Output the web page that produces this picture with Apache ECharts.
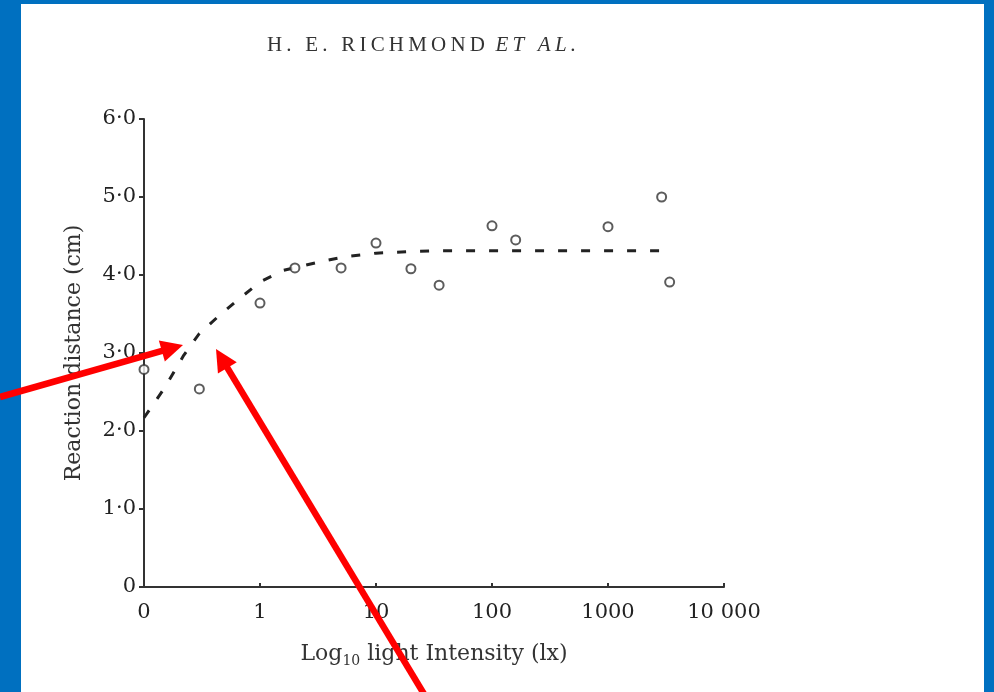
<!DOCTYPE html>
<html>
<head>
<meta charset="utf-8">
<script src="https://cdn.jsdelivr.net/npm/echarts@6/dist/echarts.min.js"></script>
<style>
html,body{margin:0;padding:0;background:#fff;}
#chart{width:994px;height:692px;}
</style>
</head>
<body>
<div id="chart"></div>
<script>
// ---- data ----
const xTickValues = [0.1, 1, 10, 100, 1000, 10000];
const xTickLabels = ['0', '1', '10', '100', '1000', '10 000'];
const yTickLabels = ['0', '1·0', '2·0', '3·0', '4·0', '5·0', '6·0'];
const obsIntensity = [0.1, 0.3, 1, 2, 5, 10, 20, 35, 100, 160, 1000, 2900, 3400];
const obsDistance  = [2.79, 2.54, 3.64, 4.09, 4.09, 4.41, 4.08, 3.87, 4.63, 4.45, 4.62, 5.00, 3.91];
const fitIntensity = [0.1, 0.15, 0.22, 0.3, 0.43, 0.63, 1, 1.6, 3.3, 5.2, 10, 20, 35, 3500];
const fitDistance  = [2.17, 2.55, 2.97, 3.25, 3.46, 3.67, 3.91, 4.06, 4.17, 4.23, 4.28, 4.30, 4.31, 4.31];
const titleMain = 'H. E. RICHMOND';
const titleItalic = 'ET AL.';
const xName = 'Log';
const xNameSub = '10';
const xNameRest = ' light Intensity (lx)';
const yName = 'Reaction distance (cm)';

// spread letters (letter-spacing approximation)
function spread(s){ return s.split('').join('\u2009'); }

function arrow(tail, tip, headLen, headHalf, color, width){
  const dx = tip[0]-tail[0], dy = tip[1]-tail[1];
  const L = Math.hypot(dx, dy), ux = dx/L, uy = dy/L;
  const bx = tip[0]-headLen*ux, by = tip[1]-headLen*uy;
  const px = -uy, py = ux;
  return [
    {type:'line', z:100, shape:{x1:tail[0], y1:tail[1], x2:bx+ux*2, y2:by+uy*2},
     style:{stroke:color, lineWidth:width}},
    {type:'polygon', z:100, shape:{points:[[tip[0],tip[1]],[bx+headHalf*px,by+headHalf*py],[bx-headHalf*px,by-headHalf*py]]},
     style:{fill:color}}
  ];
}

const chart = echarts.init(document.getElementById('chart'));
const serif = 'DejaVu Serif';
const option = {
  backgroundColor: '#ffffff',
  animation: false,
  title: {
    text: spread(titleMain) + '  {i|' + spread(titleItalic) + '}',
    left: 262, top: 30,
    textStyle: {
      fontFamily: 'Liberation Serif', fontSize: 21, fontWeight: 'normal', color: '#333',
      rich: { i: { fontFamily: 'Liberation Serif', fontSize: 21, fontStyle: 'italic', color: '#333' } }
    }
  },
  grid: { left: 144, right: 270, top: 119, bottom: 105, containLabel: false },
  xAxis: {
    type: 'log', logBase: 10, min: 0.1, max: 10000,
    name: xName + '{s|' + xNameSub + '}' + xNameRest,
    nameLocation: 'middle', nameGap: 54,
    nameTextStyle: {
      fontFamily: serif, fontSize: 22, color: '#333',
      rich: { s: { fontFamily: serif, fontSize: 14, color: '#333', verticalAlign: 'bottom', padding: [13, 0, 0, 0] } }
    },
    axisLine: { lineStyle: { color: '#333', width: 2 } },
    axisTick: { show: true, inside: true, length: 4, lineStyle: { color: '#333', width: 2 } },
    minorTick: { show: false },
    splitLine: { show: false },
    axisLabel: {
      fontFamily: serif, fontSize: 21, color: '#222', margin: 15,
      formatter: function (v) {
        for (let i = 0; i < xTickValues.length; i++) {
          if (Math.abs(Math.log10(v) - Math.log10(xTickValues[i])) < 1e-6) return xTickLabels[i];
        }
        return '';
      }
    }
  },
  yAxis: {
    type: 'value', min: 0, max: 6, interval: 1,
    name: yName, nameLocation: 'middle', nameGap: 59, nameRotate: 90,
    nameTextStyle: { fontFamily: serif, fontSize: 22, color: '#333' },
    axisLine: { show: true, lineStyle: { color: '#333', width: 2 } },
    axisTick: { show: true, inside: false, length: 5, lineStyle: { color: '#333', width: 2 } },
    splitLine: { show: false },
    axisLabel: {
      fontFamily: serif, fontSize: 21, color: '#222', margin: 8,
      formatter: function (v) { return yTickLabels[Math.round(v)]; }
    }
  },
  series: [
    {
      type: 'line', name: 'fit',
      data: fitIntensity.map((x, i) => [x, fitDistance[i]]),
      showSymbol: false, symbol: 'none',
      lineStyle: { color: '#222', width: 3, type: [9, 14] },
      z: 2
    },
    {
      type: 'scatter', name: 'obs',
      data: obsIntensity.map((x, i) => [x, obsDistance[i]]),
      symbol: 'circle', symbolSize: 9,
      itemStyle: { color: '#fff', borderColor: '#333', borderWidth: 2 },
      z: 3
    }
  ],
  graphic: [
    { type: 'rect', z: 90, shape: { x: 0, y: 0, width: 21, height: 692 }, style: { fill: '#0070C0' } },
    { type: 'rect', z: 90, shape: { x: 0, y: 0, width: 994, height: 4 }, style: { fill: '#0070C0' } },
    { type: 'rect', z: 90, shape: { x: 984, y: 0, width: 10, height: 692 }, style: { fill: '#0070C0' } }
  ].concat(arrow([0, 397], [183, 345], 22, 11, '#ff0000', 6.5))
   .concat(arrow([424, 694], [216, 349], 22, 11, '#ff0000', 6.5))
};
chart.setOption(option);
</script>
</body>
</html>
